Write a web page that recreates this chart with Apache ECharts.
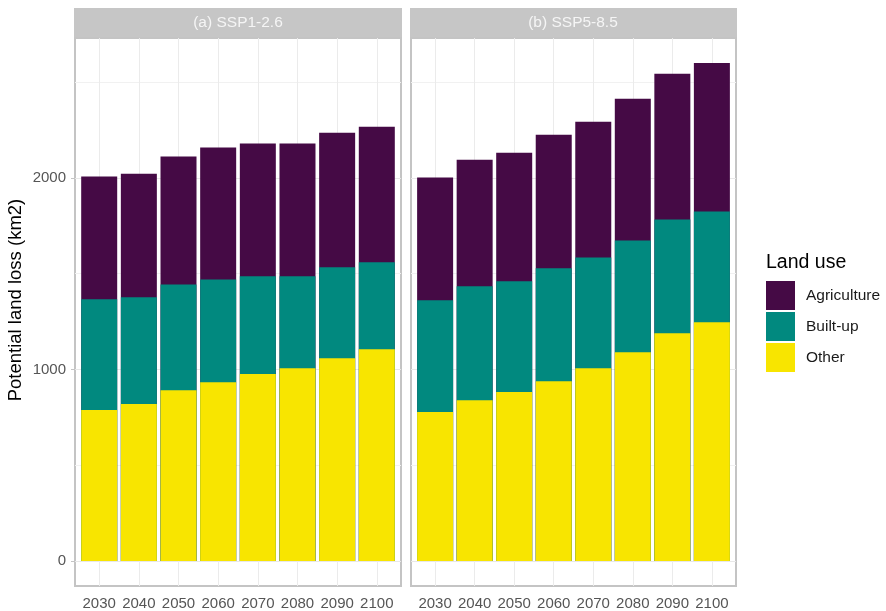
<!DOCTYPE html>
<html>
<head>
<meta charset="utf-8">
<script src="https://cdn.jsdelivr.net/npm/echarts@6/dist/echarts.min.js"></script>
<style>
  html, body { margin: 0; padding: 0; background: #fff; }
  #chart { width: 886px; height: 611px; }
</style>
</head>
<body>
<div id="chart"></div>
<script>
// data (km2)
var years = [2030, 2040, 2050, 2060, 2070, 2080, 2090, 2100];
var panels = ['(a) SSP1-2.6', '(b) SSP5-8.5'];
var landUse = ['Agriculture', 'Built-up', 'Other'];

var otherA = [788, 820, 892, 934, 976, 1007, 1059, 1106];
var builtA = [578, 557, 552, 536, 510, 479, 474, 453];
var agriA  = [641, 645, 667, 688, 693, 693, 703, 708];

var otherB = [778, 840, 882, 939, 1007, 1090, 1189, 1246];
var builtB = [583, 594, 578, 589, 578, 583, 594, 579];
var agriB  = [641, 661, 671, 697, 708, 740, 760, 775];

var yMajor = [0, 1000, 2000];
var yMinor = [500, 1500, 2500];

var colors = { 'Agriculture': '#450a45', 'Built-up': '#01897f', 'Other': '#f8e500' };
var font = "'Liberation Sans', Arial, sans-serif";

var myChart = echarts.init(document.getElementById('chart'));

var grids = [
  { left: 75, top: 38, width: 326, height: 549 },
  { left: 411, top: 38, width: 325, height: 549 }
];
var panelData = [
  { Other: otherA, 'Built-up': builtA, Agriculture: agriA },
  { Other: otherB, 'Built-up': builtB, Agriculture: agriB }
];

// stacked tops: bars are drawn overlapping, tallest (total) first
function stackTops(d, upto) {
  var order = ['Other', 'Built-up', 'Agriculture'];
  var n = order.indexOf(upto);
  return years.map(function (y, i) {
    var s = 0;
    for (var k = 0; k <= n; k++) s += d[order[k]][i];
    return [y, s];
  });
}

var xAxes = [], yAxes = [], series = [];

grids.forEach(function (g, gi) {
  xAxes.push({
    type: 'value', gridIndex: gi, min: 2023.9, max: 2106.1,
    axisLine: { show: false },
    axisTick: { show: false, customValues: years },
    axisLabel: { customValues: years, color: '#555', fontSize: 15, fontFamily: font, margin: 10,
      formatter: function (v) { return String(v); } },
    splitLine: { show: true, lineStyle: { color: '#ebebeb', width: 1 } }
  });
  // major y
  yAxes.push({
    type: 'value', gridIndex: gi, min: -130, max: 2730,
    axisLine: { show: false },
    axisTick: { show: gi === 0, length: 4, lineStyle: { color: '#c4c4c4' }, customValues: yMajor },
    axisLabel: { show: gi === 0, customValues: yMajor, color: '#555', fontSize: 15, fontFamily: font, margin: 9,
      formatter: function (v) { return String(v); } },
    splitLine: { show: true, lineStyle: { color: '#e8e8e8', width: 1 } }
  });
  // minor y gridlines
  yAxes.push({
    type: 'value', gridIndex: gi, min: -130, max: 2730,
    axisLine: { show: false }, axisTick: { show: false, customValues: yMinor },
    axisLabel: { show: false, customValues: yMinor },
    splitLine: { show: true, lineStyle: { color: '#f1f1f1', width: 1 } }
  });
  ['Agriculture', 'Built-up', 'Other'].forEach(function (name) {
    series.push({
      type: 'bar', name: name, xAxisIndex: gi, yAxisIndex: gi * 2,
      barWidth: 36, barGap: '-100%',
      itemStyle: { color: colors[name] },
      data: stackTops(panelData[gi], name)
    });
  });
});

var option = {
  animation: false,
  backgroundColor: '#fff',
  grid: grids.map(function (g) {
    return Object.assign({ show: true, borderColor: '#c4c4c4', borderWidth: 2, backgroundColor: '#fff' }, g);
  }),
  xAxis: xAxes,
  yAxis: yAxes,
  series: series,
  legend: {
    data: landUse, orient: 'vertical', left: 766, top: 281, padding: 0,
    itemWidth: 29, itemHeight: 29, itemGap: 2, icon: 'rect',
    textStyle: { fontSize: 15.5, color: '#1a1a1a', fontFamily: font, padding: [0, 0, 0, 6] },
    selectedMode: false
  },
  graphic: [
    { type: 'rect', shape: { x: 74, y: 8, width: 328, height: 29 }, style: { fill: '#c6c6c6' } },
    { type: 'rect', shape: { x: 410, y: 8, width: 327, height: 29 }, style: { fill: '#c6c6c6' } },
    { type: 'text', x: 238, y: 23, style: { text: panels[0], fill: '#f5f5f5', font: '15.5px ' + font, textAlign: 'center', textVerticalAlign: 'middle' } },
    { type: 'text', x: 573, y: 23, style: { text: panels[1], fill: '#f5f5f5', font: '15.5px ' + font, textAlign: 'center', textVerticalAlign: 'middle' } },
    { type: 'text', x: 16, y: 300, rotation: Math.PI / 2,
      style: { text: 'Potential land loss (km2)', fill: '#000', font: '18.5px ' + font, textAlign: 'center', textVerticalAlign: 'middle' } },
    { type: 'text', x: 766, y: 263, style: { text: 'Land use', fill: '#000', font: '19.5px ' + font, textAlign: 'left', textVerticalAlign: 'middle' } }
  ]
};

myChart.setOption(option);
window.onresize = function () { myChart.resize(); };
</script>
</body>
</html>
